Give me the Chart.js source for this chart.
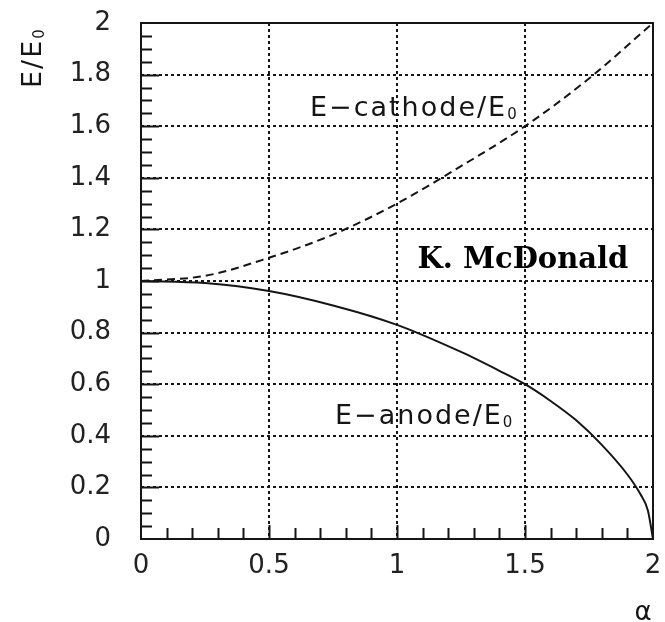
<!DOCTYPE html>
<html>
<head>
<meta charset="utf-8">
<script src="https://cdn.jsdelivr.net/npm/chart.js@4"></script>
<style>
  html, body { margin: 0; padding: 0; background: #fff; }
</style>
</head>
<body>
<canvas id="chart" width="665" height="622"></canvas>
<script>
// field at the electrodes, in units of E0, against alpha
var alphaAnode   = [0, 0.25, 0.5, 0.75, 1.0, 1.25, 1.4, 1.5, 1.6, 1.7, 1.8, 1.9, 1.95, 1.98, 2.0];
var eAnode       = [1.0, 0.992, 0.961, 0.905, 0.830, 0.725, 0.652, 0.600, 0.535, 0.46, 0.365, 0.25, 0.175, 0.11, 0.0];
var alphaCathode = [0, 0.25, 0.5, 0.75, 1.0, 1.25, 1.5, 1.75, 2.0];
var eCathode     = [1.0, 1.02, 1.09, 1.18, 1.30, 1.445, 1.60, 1.785, 2.0];

var xTickValues = [0, 0.5, 1, 1.5, 2];
var xTickLabels = ['0', '0.5', '1', '1.5', '2'];
var yTickValues = [0, 0.2, 0.4, 0.6, 0.8, 1, 1.2, 1.4, 1.6, 1.8, 2];
var yTickLabels = ['0', '0.2', '0.4', '0.6', '0.8', '1', '1.2', '1.4', '1.6', '1.8', '2'];

function points(xs, ys) {
  return xs.map(function (x, i) { return { x: x, y: ys[i] }; });
}

var ink = '#151515';
var labelFont = { family: 'DejaVu Sans', size: 26 };

// dotted grid, but not on the frame itself
function gridColor(c) {
  if (!c.tick) return ink;
  return (c.tick.value === c.scale.min || c.tick.value === c.scale.max) ? 'rgba(0,0,0,0)' : ink;
}

// text with a small lowered "0" after it
function textSub(ctx, main, sub, x, y) {
  ctx.font = '27px "DejaVu Sans"';
  ctx.letterSpacing = '2px';
  ctx.fillText(main, x, y);
  var w = ctx.measureText(main).width;
  ctx.font = '15px "DejaVu Sans"';
  ctx.letterSpacing = '0px';
  ctx.fillText(sub, x + w, y + 3);
}

var frameAndLabels = {
  id: 'frameAndLabels',
  afterDraw: function (chart) {
    var ctx = chart.ctx;
    var a = chart.chartArea;
    var xs = chart.scales.x, ys = chart.scales.y;
    ctx.save();
    ctx.strokeStyle = ink;
    ctx.fillStyle = ink;

    // inward ticks along the left and bottom axes
    ctx.lineWidth = 2;
    ctx.beginPath();
    for (var i = 1; i < 40; i++) {
      var py = Math.round(ys.getPixelForValue(i * 0.05)) + 0.5;
      var len = (i % 4 === 0) ? 18 : 11;
      ctx.moveTo(a.left, py);
      ctx.lineTo(a.left + len, py);
    }
    for (var j = 1; j < 20; j++) {
      var px = Math.round(xs.getPixelForValue(j * 0.1)) + 0.5;
      var l2 = (j % 5 === 0) ? 14 : 11;
      ctx.moveTo(px, a.bottom);
      ctx.lineTo(px, a.bottom - l2);
    }
    ctx.stroke();

    // frame
    ctx.lineWidth = 2;
    ctx.strokeRect(a.left, a.top, a.right - a.left, a.bottom - a.top);

    // curve labels
    ctx.textAlign = 'left';
    ctx.textBaseline = 'alphabetic';
    textSub(ctx, 'E\u2212cathode/E', '0', xs.getPixelForValue(0.66), ys.getPixelForValue(1.64));
    textSub(ctx, 'E\u2212anode/E', '0', xs.getPixelForValue(0.758), ys.getPixelForValue(0.445));

    ctx.font = 'bold 29px "DejaVu Serif"';
    ctx.letterSpacing = '0px';
    ctx.fillStyle = '#000';
    ctx.fillText('K. McDonald', xs.getPixelForValue(1.08), ys.getPixelForValue(1.05));

    // axis titles
    ctx.fillStyle = ink;
    ctx.font = '26px "DejaVu Sans"';
    ctx.textAlign = 'center';
    ctx.fillText('\u03b1', a.right - 10, 620);

    ctx.save();
    ctx.translate(41, 88);
    ctx.rotate(-Math.PI / 2);
    ctx.textAlign = 'left';
    textSub(ctx, 'E/E', '0', 0, 0);
    ctx.restore();

    ctx.restore();
  }
};

var ctx = document.getElementById('chart').getContext('2d');

new Chart(ctx, {
  type: 'line',
  data: {
    datasets: [{
      label: 'E-anode/E0',
      data: points(alphaAnode, eAnode),
      borderColor: ink,
      borderWidth: 2,
      pointRadius: 0,
      cubicInterpolationMode: 'monotone',
      fill: false
    }, {
      label: 'E-cathode/E0',
      data: points(alphaCathode, eCathode),
      borderColor: ink,
      borderWidth: 2,
      borderDash: [8, 5],
      pointRadius: 0,
      cubicInterpolationMode: 'monotone',
      fill: false
    }]
  },
  options: {
    responsive: false,
    animation: false,
    layout: { padding: { top: 23, right: 12, left: 0, bottom: 0 } },
    plugins: { legend: { display: false }, tooltip: { enabled: false } },
    scales: {
      x: {
        type: 'linear',
        min: 0,
        max: 2,
        afterBuildTicks: function (s) { s.ticks = xTickValues.map(function (v) { return { value: v }; }); },
        afterFit: function (s) { s.height = 83; s.paddingLeft = 0; s.paddingRight = 0; },
        grid: { color: gridColor, lineWidth: 2, drawTicks: false },
        border: { display: false, dash: [3, 3] },
        ticks: {
          padding: 12,
          maxRotation: 0,
          autoSkip: false,
          color: '#222',
          font: labelFont,
          callback: function (v, i) { return xTickLabels[i]; }
        }
      },
      y: {
        type: 'linear',
        min: 0,
        max: 2,
        afterBuildTicks: function (s) { s.ticks = yTickValues.map(function (v) { return { value: v }; }); },
        afterFit: function (s) { s.width = 141; s.paddingTop = 0; s.paddingBottom = 0; },
        grid: { color: gridColor, lineWidth: 2, drawTicks: false },
        border: { display: false, dash: [3, 3] },
        ticks: {
          padding: 30,
          autoSkip: false,
          color: '#222',
          font: labelFont,
          callback: function (v, i) { return yTickLabels[i]; }
        }
      }
    }
  },
  plugins: [frameAndLabels]
});
</script>
</body>
</html>
